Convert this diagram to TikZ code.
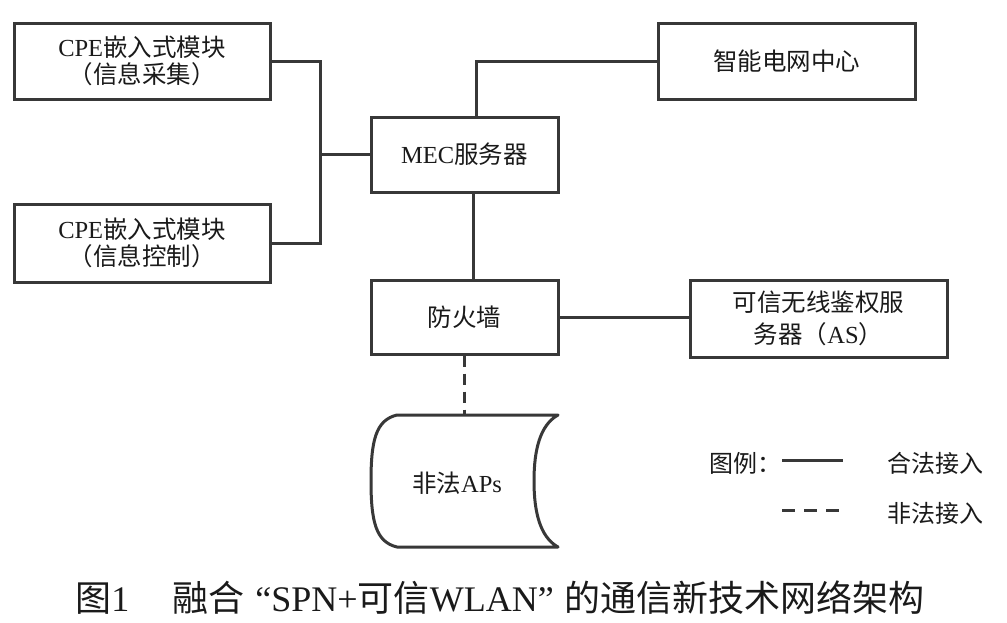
\documentclass[tikz,border=0pt]{standalone}
\usepackage{fontspec}
\setmainfont{Liberation Serif}
\newfontfamily\cjk{Noto Sans CJK SC}
\definecolor{linegray}{HTML}{383838}
\definecolor{textcol}{HTML}{1A1A1A}
\begin{document}
\begin{tikzpicture}[x=1pt,y=-1pt,
  boxnode/.style={draw=linegray,line width=3pt,inner sep=0pt,align=center,
    text=textcol,font=\fontsize{24.5}{27}\selectfont},
  wire/.style={draw=linegray,line width=3pt},
  dashwire/.style={draw=linegray,line width=3pt,dash pattern=on 11pt off 7pt},
  legtext/.style={text=textcol,font=\fontsize{24}{28}\selectfont,inner sep=0pt}]
\fill[white] (0,0) rectangle (1007,622);
\useasboundingbox (0,0) rectangle (1007,622);

% boxes
\node[boxnode,minimum width=256pt,minimum height=76pt] (cpe1) at (142,61)
  {CPE{\cjk 嵌入式模块}\\{\cjk （信息采集）}};
\node[boxnode,minimum width=256pt,minimum height=78pt] (cpe2) at (142,243)
  {CPE{\cjk 嵌入式模块}\\{\cjk （信息控制）}};
\node[boxnode,minimum width=187pt,minimum height=75pt] (mec) at (464.5,154.5)
  {MEC{\cjk 服务器}};
\node[boxnode,minimum width=257pt,minimum height=76pt] (grid) at (786.5,61)
  {\cjk 智能电网中心};
\node[boxnode,minimum width=187pt,minimum height=74pt] (fw) at (464.5,317)
  {\cjk 防火墙};
\node[boxnode,minimum width=257pt,minimum height=77pt,
  font=\fontsize{24.5}{32}\selectfont] (as) at (818.5,318.5)
  {{\cjk 可信无线鉴权服}\\{\cjk 务器（}AS{\cjk ）}};

% illegal APs shape
\draw[wire,fill=white,line join=round]
  (397,415) -- (558,415)
  .. controls (540,425) and (534,450) .. (534,481)
  .. controls (534,512) and (540,537) .. (558,547)
  -- (397,547)
  .. controls (376,542) and (371,522) .. (371,481)
  .. controls (371,440) and (376,420) .. (397,415) -- cycle;
\node[inner sep=0pt,minimum width=187pt,minimum height=132pt] (cyl) at (464.5,481) {};
\node[legtext,font=\fontsize{24.5}{28}\selectfont] (cyltext) at (457,483) {{\cjk 非法}APs};

% connectors
\coordinate (jn) at (320,154.5);
\draw[wire] (cpe1.east) -| (jn) |- (cpe2.east);
\draw[wire] (jn) -- (mec.west);
\draw[wire] ([xshift=11.5pt]mec.north) |- (grid.west);
\draw[wire] ([xshift=8.5pt]mec.south) -- ([xshift=8.5pt]fw.north);
\draw[wire] (fw.east) -- (fw.east -| as.west);
\draw[dashwire] (fw.south) -- (cyl.north);

% legend
\node[legtext,anchor=west] (legtitle) at (709,463) {\cjk 图例：};
\coordinate (l1a) at (782,460);
\coordinate (l1b) at (843,460);
\coordinate (l2a) at (782,510);
\coordinate (l2b) at (843,510);
\draw[wire] (l1a) -- (l1b);
\draw[draw=linegray,line width=3pt,dash pattern=on 13pt off 9pt] (l2a) -- (l2b);
\node[legtext,anchor=west] (leg1) at (887,463) {\cjk 合法接入};
\node[legtext,anchor=west] (leg2) at (887,513) {\cjk 非法接入};

% caption
\node[text=textcol,font=\fontsize{36}{40}\selectfont,inner sep=0pt] (caption) at (500,598)
  {{\cjk 图}1\hspace{1.2em}{\cjk 融合}\hspace{0.3em}“SPN+{\cjk 可信}WLAN”\hspace{0.3em}{\cjk 的通信新技术网络架构}};
\end{tikzpicture}
\end{document}
